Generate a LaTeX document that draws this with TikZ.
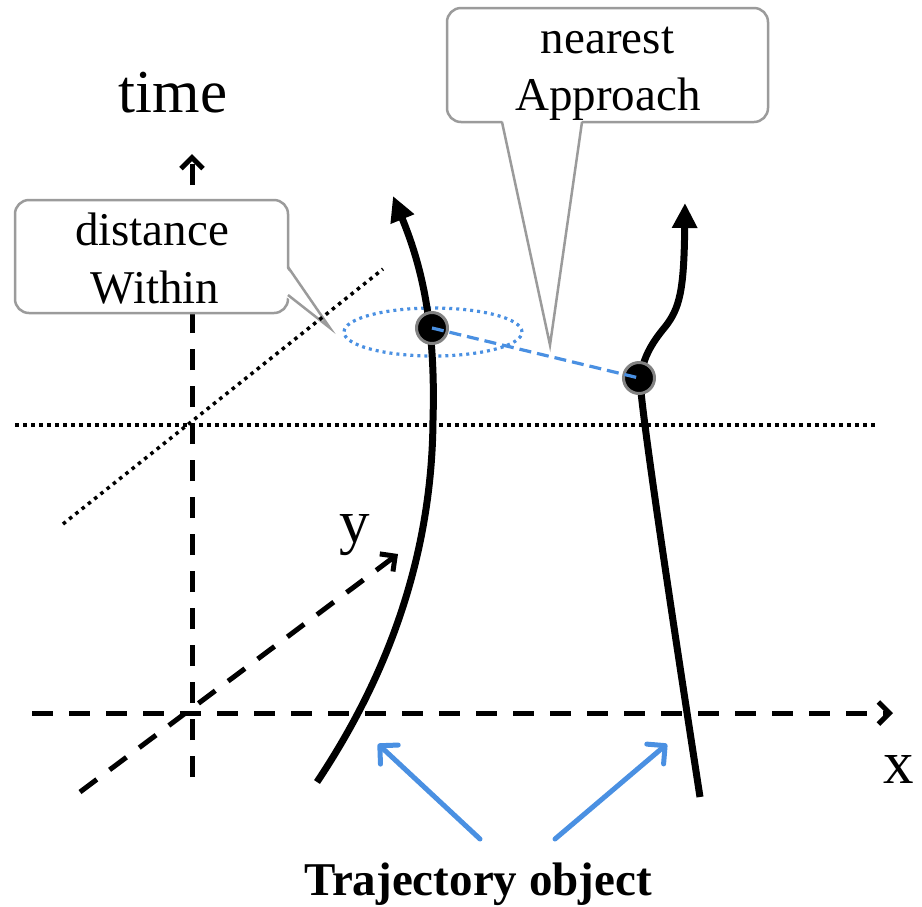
\documentclass[tikz,border=0pt]{standalone}
\usepackage{fontspec}
\setmainfont{Liberation Serif}
\usetikzlibrary{arrows.meta}
\definecolor{bluec}{RGB}{74,144,226}
\definecolor{grayc}{RGB}{155,155,155}
\definecolor{dotgray}{RGB}{130,130,130}
\begin{document}
\begin{tikzpicture}[x=1pt,y=-1pt,
  axis/.style={line width=5pt, dash pattern=on 21pt off 16pt, -{Straight Barb[length=11pt,width=22pt]}},
  dotline/.style={line width=3.5pt, dash pattern=on 3.5pt off 4.5pt},
  calloutbox/.style={draw=grayc, line width=2.5pt, fill=white, rounded corners=14pt, inner sep=0pt},
  pointer/.style={draw=grayc, line width=2.5pt, line join=miter},
  traj/.style={line width=7pt},
  trajarrow/.style={-{Triangle[length=25pt,width=24pt]}},
  trajdot/.style={circle, fill=black, draw=dotgray, line width=3pt, minimum size=31pt, inner sep=0pt},
  bluedash/.style={draw=bluec, line width=3.2pt, dash pattern=on 12pt off 6pt},
  bluedot/.style={draw=bluec, line width=3.2pt, dash pattern=on 3pt off 4pt},
  bluearr/.style={draw=bluec, line width=5pt, line cap=round, -{Straight Barb[length=13pt,width=26pt,round]}},
  lbl/.style={anchor=base, inner sep=0pt, font=\fontsize{47}{50}\selectfont},
  axlbl/.style={anchor=base, inner sep=0pt, font=\fontsize{61}{64}\selectfont}
]
\useasboundingbox (0,0) rectangle (922,906);

% axes
\coordinate (t0) at (192,777);
\coordinate (t1) at (192,154);
\coordinate (x0) at (32,713);
\coordinate (x1) at (893,713);
\coordinate (y0) at (80,792);
\coordinate (y1) at (398,554);
\draw[axis] (t0) -- (t1);
\draw[axis] (x0) -- (x1);
\draw[axis] (y0) -- (y1);

% dotted horizontal plane line
\coordinate (h0) at (15,425);
\coordinate (h1) at (876,425);
\draw[dotline] (h0) -- (h1);

% callout: distance Within
\node[calloutbox, minimum width=273pt, minimum height=113pt] (wbox) at (151.5,256.5) {};
\coordinate (wb1) at (288,267);
\coordinate (wb2) at (288,295);
\coordinate (wtip) at (330,328);
\fill[white] (285,266) -- (wtip) -- (285,296) -- cycle;
\draw[pointer] (wb1) -- (wtip) -- (wb2);
\node[lbl] (wl1) at (152,245) {distance};
\node[lbl] (wl2) at (155,303) {Within};

% callout: nearest Approach
\node[calloutbox, minimum width=321pt, minimum height=114pt] (nbox) at (607.5,65) {};
\coordinate (nb1) at (502,122);
\coordinate (nb2) at (582,122);
\coordinate (ntip) at (550,345);
\fill[white] (502,119) -- (ntip) -- (582,119) -- cycle;
\draw[pointer] (nb1) -- (ntip) -- (nb2);
\node[lbl] (nl1) at (607.5,53) {nearest};
\node[lbl] (nl2) at (608,110) {Approach};

% dotted diagonal line
\coordinate (g0) at (63,524);
\coordinate (g1) at (383,269);
\draw[dotline] (g0) -- (g1);

% ellipse
\draw[bluedot] (433,332) ellipse [x radius=89pt, y radius=24pt];

% trajectories
\coordinate (l0) at (317,782);
\coordinate (lm) at (433,420);
\coordinate (l1) at (393,196);
\draw[traj, trajarrow] (l0) .. controls (385,680) and (432,560) .. (lm) .. controls (436,320) and (420,262) .. (l1);

\coordinate (r0) at (700,797);
\coordinate (rm) at (641,392);
\coordinate (rk) at (665,327);
\coordinate (r1) at (685,203);
\draw[traj, trajarrow] (r0) .. controls (685,700) and (648,460) .. (rm) .. controls (638,365) and (650,345) .. (rk) .. controls (680,308) and (684,290) .. (r1);

% points of nearest approach
\node[trajdot] (d1) at (432,328) {};
\node[trajdot] (d2) at (639,378) {};
\draw[bluedash] (d1.center) -- (d2.center);

% labels
\node[axlbl] (tl) at (173,112) {time};
\node[axlbl] (yl) at (355,542) {y};
\node[axlbl] (xl) at (899,783) {x};
\node[lbl, font=\fontsize{47}{50}\selectfont\bfseries] (to) at (478,895) {Trajectory object};

% blue arrows
\coordinate (a1s) at (480,839);
\coordinate (a1e) at (378,744);
\coordinate (a2s) at (555,839);
\coordinate (a2e) at (667,744);
\draw[bluearr] (a1s) -- (a1e);
\draw[bluearr] (a2s) -- (a2e);
\end{tikzpicture}
\end{document}
